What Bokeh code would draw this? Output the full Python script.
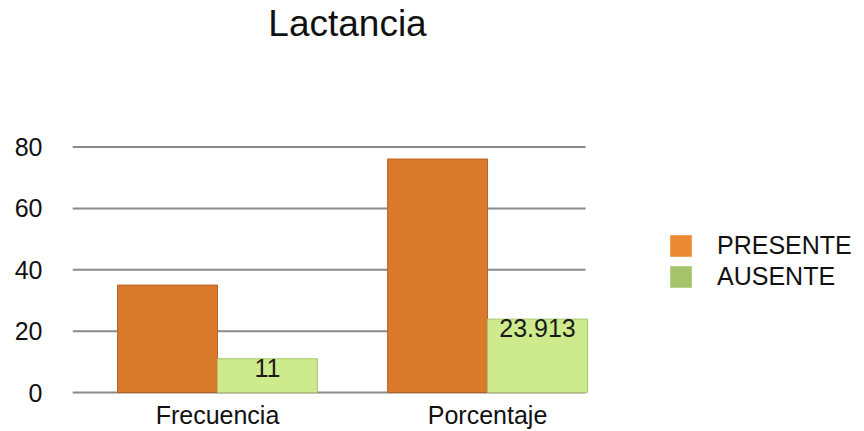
from bokeh.plotting import figure
from bokeh.models import (ColumnDataSource, Range1d, FixedTicker, Legend, LegendItem,
                          LabelSet, Label)
from bokeh.core.properties import value
from bokeh.embed import file_html
from bokeh.resources import INLINE

# Lactancia: presente / ausente, en frecuencia y porcentaje
categories = ["Frecuencia", "Porcentaje"]
series_names = ["PRESENTE", "AUSENTE"]
presente = [35, 76.087]
ausente = [11, 23.913]
y_ticks = [0, 20, 40, 60, 80]

FONT = "Liberation Sans"
orange = "#D97A2D"
green = "#CDEB8C"

xpos = list(range(len(categories)))
bar_w = 0.37
x_start, grid_end = -0.537, 1.363

src_p = ColumnDataSource(dict(x=[i - bar_w / 2 for i in xpos], top=presente))
src_a = ColumnDataSource(dict(x=[i + bar_w / 2 for i in xpos], top=ausente,
                              label=["{:g}".format(v) for v in ausente]))

# the frame spans the whole canvas right of the value axis; title and legend sit inside it
p = figure(width=864, height=431, output_backend="svg", toolbar_location=None,
           x_range=Range1d(x_start, 2.396), y_range=Range1d(-0.645, 127.74),
           min_border_left=72, min_border_right=0, min_border_top=0,
           min_border_bottom=33, background_fill_color="white",
           border_fill_color="white", outline_line_color=None)

# horizontal value grid, limited to the plotting area of the bars
p.segment(x0=x_start, x1=grid_end, y0=y_ticks, y1=y_ticks,
          line_color="#8A8A8A", line_width=2)

p.vbar(x="x", top="top", width=bar_w, bottom=0, source=src_p,
       fill_color=orange, line_color="#B5601F", line_width=1)
p.vbar(x="x", top="top", width=bar_w, bottom=0, source=src_a,
       fill_color=green, line_color="#A9C46E", line_width=1)

p.add_layout(LabelSet(x="x", y="top", text="label", source=src_a,
                      text_align="center", text_baseline="top", y_offset=0,
                      text_font=value(FONT), text_font_size=value("25px"),
                      text_color="#1a1a1a"))

# legend swatches
nan = float("nan")
sw_p = p.quad(left=[nan], right=[nan], top=[nan], bottom=[nan],
              fill_color="#EC8A33", line_color=None)
sw_a = p.quad(left=[nan], right=[nan], top=[nan], bottom=[nan],
              fill_color="#A5C46A", line_color=None)
legend = Legend(items=[LegendItem(label=series_names[0], renderers=[sw_p]),
                       LegendItem(label=series_names[1], renderers=[sw_a])],
                location=(595, 103), padding=0, margin=0, spacing=2,
                glyph_width=27, glyph_height=27, label_standoff=23,
                label_text_font=FONT, label_text_font_size="25px",
                label_text_color="#111111", border_line_color=None,
                background_fill_alpha=0)
p.add_layout(legend, "center")

# title
p.add_layout(Label(x=275, y=371, x_units="screen", y_units="screen", text="Lactancia",
                   text_align="center", text_baseline="alphabetic",
                   text_font=FONT, text_font_size="37px",
                   text_color="#111111"))

# axes
p.xaxis.ticker = FixedTicker(ticks=xpos)
p.xaxis.major_label_overrides = {i: c for i, c in zip(xpos, categories)}
p.yaxis.ticker = FixedTicker(ticks=y_ticks)
for ax in (p.xaxis, p.yaxis):
    ax.axis_line_color = None
    ax.major_tick_line_color = None
    ax.minor_tick_line_color = None
    ax.major_label_text_font = FONT
    ax.major_label_text_font_size = "25px"
    ax.major_label_text_color = "#111111"
p.xaxis.major_label_standoff = 0
p.yaxis.major_label_standoff = 24

p.xgrid.grid_line_color = None
p.ygrid.grid_line_color = None

open("out.html", "w").write(file_html(p, INLINE))
